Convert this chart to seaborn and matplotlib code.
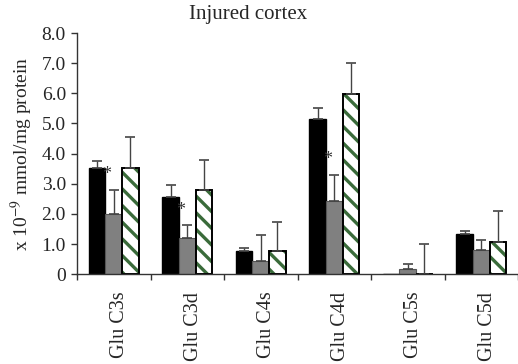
import matplotlib
matplotlib.use("Agg")
import matplotlib.pyplot as plt
import matplotlib.transforms as mtransforms
from matplotlib.patches import Rectangle
import seaborn as sns
import pandas as pd
import numpy as np

categories = ["Glu C3s", "Glu C3d", "Glu C4s", "Glu C4d", "Glu C5s", "Glu C5d"]
series = ["A", "B", "C"]
values_a = [3.51, 2.57, 0.78, 5.16, 0.01, 1.34]
errors_a = [0.25, 0.40, 0.09, 0.36, 0.00, 0.10]
values_b = [1.99, 1.19, 0.44, 2.44, 0.19, 0.79]
errors_b = [0.82, 0.43, 0.85, 0.85, 0.14, 0.34]
values_c = [3.53, 2.78, 0.76, 5.97, 0.00, 1.07]
errors_c = [1.01, 1.00, 0.98, 1.02, 0.99, 1.02]
star_categories = ["Glu C3s", "Glu C3d", "Glu C4d"]
yticks = [0, 1, 2, 3, 4, 5, 6, 7, 8]
ytick_labels = ["0", "1.0", "2.0", "3.0", "4.0", "5.0", "6.0", "7.0", "8.0"]

sns.set_theme(style="white")
plt.rcParams["font.family"] = ["Liberation Serif", "DejaVu Serif"]
plt.rcParams["mathtext.fontset"] = "stix"
plt.rcParams["hatch.linewidth"] = 2.4

df = pd.DataFrame({
    "category": categories * 3,
    "series": [s for s in series for _ in categories],
    "value": values_a + values_b + values_c,
})

fig = plt.figure(figsize=(5.18, 3.64), dpi=100)
ax = fig.add_axes([77/518, 1 - 274.3/364, 1 - 77/518, (274.3 - 33)/364])

colors = ["#000000", "#808080", "#ffffff"]
sns.barplot(data=df, x="category", y="value", hue="series", order=categories,
            hue_order=series, palette=colors, width=0.68, errorbar=None,
            edgecolor="black", linewidth=1.0, legend=False, ax=ax, saturation=1)

n = len(categories)
bars = list(ax.patches[:3 * n])
for i, p in enumerate(bars):
    s = i // n
    if s == 2:
        p.set_hatch("\\\\")
        p.set_edgecolor("#3a6b3a")
        p.set_linewidth(0)
        outline = Rectangle((p.get_x(), p.get_y()), p.get_width(), p.get_height(),
                            fill=False, edgecolor="black", linewidth=1.4, zorder=p.get_zorder() + 0.1)
        ax.add_patch(outline)
    elif s == 1:
        p.set_edgecolor("#555555")
        p.set_linewidth(0.8)

errs = [errors_a, errors_b, errors_c]
vals = [values_a, values_b, values_c]
for i, p in enumerate(bars):
    s, c = divmod(i, n)
    xc = p.get_x() + p.get_width() / 2
    if errs[s][c] > 0:
        ax.errorbar(xc, vals[s][c], yerr=[[0], [errs[s][c]]], fmt="none",
                    ecolor="#444444", elinewidth=1.0, capsize=3.5, capthick=1.2)

for cat in star_categories:
    c = categories.index(cat)
    pb = bars[n + c]
    ax.text(pb.get_x() + 0.02, values_b[c] + errors_b[c] + 0.5, "*",
            ha="center", va="center", fontsize=13, color="#333333")

ax.set_xlim(-0.5, (518 - 77) / 75 - 0.5)
ax.set_ylim(0, 8)
ax.set_yticks(yticks)
ax.set_yticklabels(ytick_labels, fontsize=14)
ax.set_xticks(range(n))
ax.set_xticklabels(categories, rotation=90, fontsize=14.5)
ax.set_xticks(np.arange(-0.5, n, 1.0), minor=True)
ax.tick_params(axis="x", which="major", length=0, pad=12.5)
ax.tick_params(axis="x", which="minor", length=4, width=1, color="#333333", direction="out", bottom=True)
ax.tick_params(axis="y", length=4, width=1, color="#333333", direction="out", left=True, pad=4)
shift = mtransforms.ScaledTranslation(6/100, 0, fig.dpi_scale_trans)
for lbl in ax.get_xticklabels():
    lbl.set_transform(lbl.get_transform() + shift)

ax.set_xlabel("")
ax.set_ylabel("x 10$^{-9}$ mmol/mg protein", fontsize=14, labelpad=5)

for sp in ["top", "right"]:
    ax.spines[sp].set_visible(False)
for sp in ["left", "bottom"]:
    ax.spines[sp].set_color("#333333")
    ax.spines[sp].set_linewidth(1.0)
ax.grid(False)

fig.text(248/518, 1 - 14/364, "Injured cortex", ha="center", va="center", fontsize=15)

fig.savefig("out.png", dpi=100)
